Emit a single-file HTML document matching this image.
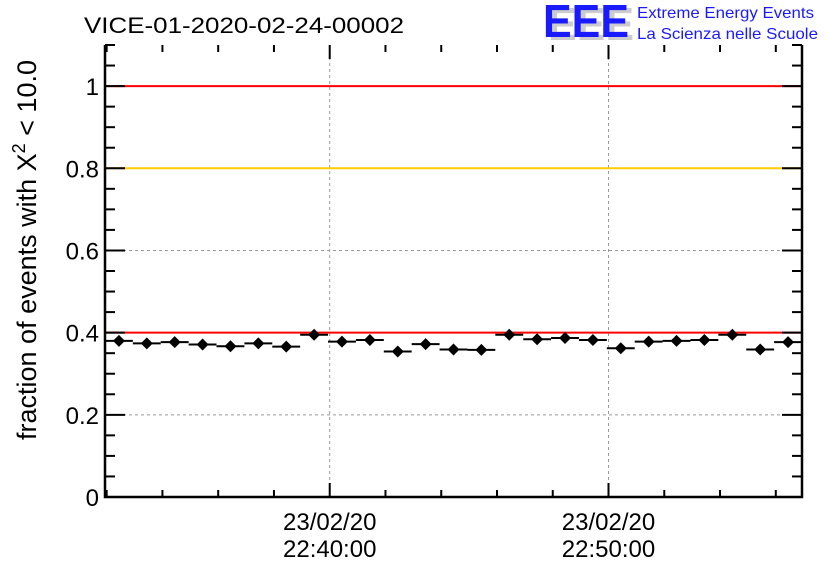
<!DOCTYPE html>
<html><head><meta charset="utf-8"><style>
html,body{margin:0;padding:0;background:#fff;}
svg{display:block;font-family:"Liberation Sans",sans-serif;}
</style></head><body>
<svg id="chart" width="836" height="572" viewBox="0 0 836 572" xmlns="http://www.w3.org/2000/svg">
<text x="84" y="33" font-size="22" fill="#000" textLength="320" lengthAdjust="spacingAndGlyphs">VICE-01-2020-02-24-00002</text>
<g>
<text x="548" y="40" font-size="46" font-weight="bold" fill="#ccc" textLength="86" lengthAdjust="spacingAndGlyphs">EEE</text>
<text x="543" y="37" font-size="46" font-weight="bold" fill="#1a1aff" textLength="86" lengthAdjust="spacingAndGlyphs">EEE</text>
<text x="637" y="18" font-size="16" fill="#1a1aff" textLength="177" lengthAdjust="spacingAndGlyphs">Extreme Energy Events</text>
<text x="637" y="39" font-size="16" fill="#1a1aff" textLength="181" lengthAdjust="spacingAndGlyphs">La Scienza nelle Scuole</text>
</g>
<text transform="translate(36,250) rotate(-90)" text-anchor="middle" font-size="27" fill="#000">fraction of events with Χ<tspan dy="-11" font-size="18">2</tspan><tspan dy="11"> &lt; 10.0</tspan></text>
<g id="grid"></g>
<g id="refs"></g>
<g id="marks"></g>
<g id="axes"></g>
</svg>
<script>
const values=[0.380,0.374,0.377,0.371,0.367,0.374,0.366,0.395,0.378,0.382,0.354,0.372,0.359,0.358,0.395,0.384,0.387,0.382,0.362,0.378,0.380,0.382,0.395,0.359,0.377];
const errors=[0.007,0.007,0.007,0.007,0.007,0.007,0.007,0.007,0.007,0.007,0.007,0.007,0.007,0.007,0.007,0.007,0.007,0.007,0.007,0.007,0.007,0.007,0.007,0.007,0.007];
const yTicks=[0,0.2,0.4,0.6,0.8,1];
const yTickLabels=["0","0.2","0.4","0.6","0.8","1"];
const refLevels=[1.0,0.8,0.4];
const refColors=["#ff0000","#ffcc00","#ff0000"];
const xMajorMinutes=[8.06,18.06];
const xMajorLabels=[["23/02/20","22:40:00"],["23/02/20","22:50:00"]];
const NS="http://www.w3.org/2000/svg";
const L=105,R=802,T=45,B=497,yMin=0,yMax=1.1,xSpan=25;
const yS=v=>B-(v-yMin)/(yMax-yMin)*(B-T);
const xS=m=>L+m/xSpan*(R-L);
function mk(p,tag,a){const e=document.createElementNS(NS,tag);for(const k in a)e.setAttribute(k,a[k]);p.appendChild(e);return e;}
const grid=document.getElementById('grid'),refs=document.getElementById('refs'),marks=document.getElementById('marks'),axes=document.getElementById('axes');
[0.2,0.4,0.6].forEach(v=>{const l=mk(grid,'line',{x1:L,x2:R,y1:yS(v),y2:yS(v),stroke:'#999','stroke-dasharray':'3,3','stroke-width':1});

});
xMajorMinutes.forEach(m=>{const l=mk(grid,'line',{x1:xS(m),x2:xS(m),y1:T,y2:B,stroke:'#999','stroke-dasharray':'3,3','stroke-width':1});

});
refLevels.forEach((v,i)=>{const l=mk(refs,'line',{x1:L,x2:R,y1:yS(v),y2:yS(v),stroke:refColors[i],'stroke-width':2});

});
values.forEach((v,i)=>{const g=mk(marks,'g',{});


const cx=xS(i+0.5),cy=yS(v);
mk(g,'line',{x1:xS(i),x2:xS(i+1),y1:cy,y2:cy,stroke:'#000','stroke-width':2});
mk(g,'line',{x1:cx,x2:cx,y1:yS(v+errors[i]),y2:yS(v-errors[i]),stroke:'#000','stroke-width':2});
mk(g,'path',{d:`M${cx-6},${cy}L${cx},${cy-6}L${cx+6},${cy}L${cx},${cy+6}Z`,fill:'#000'});});
mk(axes,'path',{d:`M${L},${T}V${B}H${R}V${T}`,fill:'none',stroke:'#000','stroke-width':2.5});
for(let v=0;v<=1.1001;v+=0.05){const r=Math.round(v*100)/100;const major=Math.abs(r*10-Math.round(r*10))<1e-6&&Math.round(r*10)%2===0;const len=major?20:10;
mk(axes,'line',{x1:L,x2:L+len,y1:yS(r),y2:yS(r),stroke:'#000','stroke-width':2});
mk(axes,'line',{x1:R,x2:R-len,y1:yS(r),y2:yS(r),stroke:'#000','stroke-width':2});}
yTicks.forEach((v,i)=>{const t=mk(axes,'text',{x:L-6,y:yS(v)+9,'text-anchor':'end','font-size':24,fill:'#000'});t.textContent=yTickLabels[i];

});
for(let m=xMajorMinutes[0]-8;m<=xSpan;m+=2){const major=xMajorMinutes.some(q=>Math.abs(q-m)<1e-6);const len=major?14:7;
mk(axes,'line',{x1:xS(m),x2:xS(m),y1:B,y2:B-len,stroke:'#000','stroke-width':2});
mk(axes,'line',{x1:xS(m),x2:xS(m),y1:T,y2:T+len,stroke:'#000','stroke-width':2});}
xMajorMinutes.forEach((m,i)=>{xMajorLabels[i].forEach((s,j)=>{const t=mk(axes,'text',{x:xS(m),y:530+j*27,'text-anchor':'middle','font-size':24,fill:'#000'});t.textContent=s;

});});
</script>
</body></html>
